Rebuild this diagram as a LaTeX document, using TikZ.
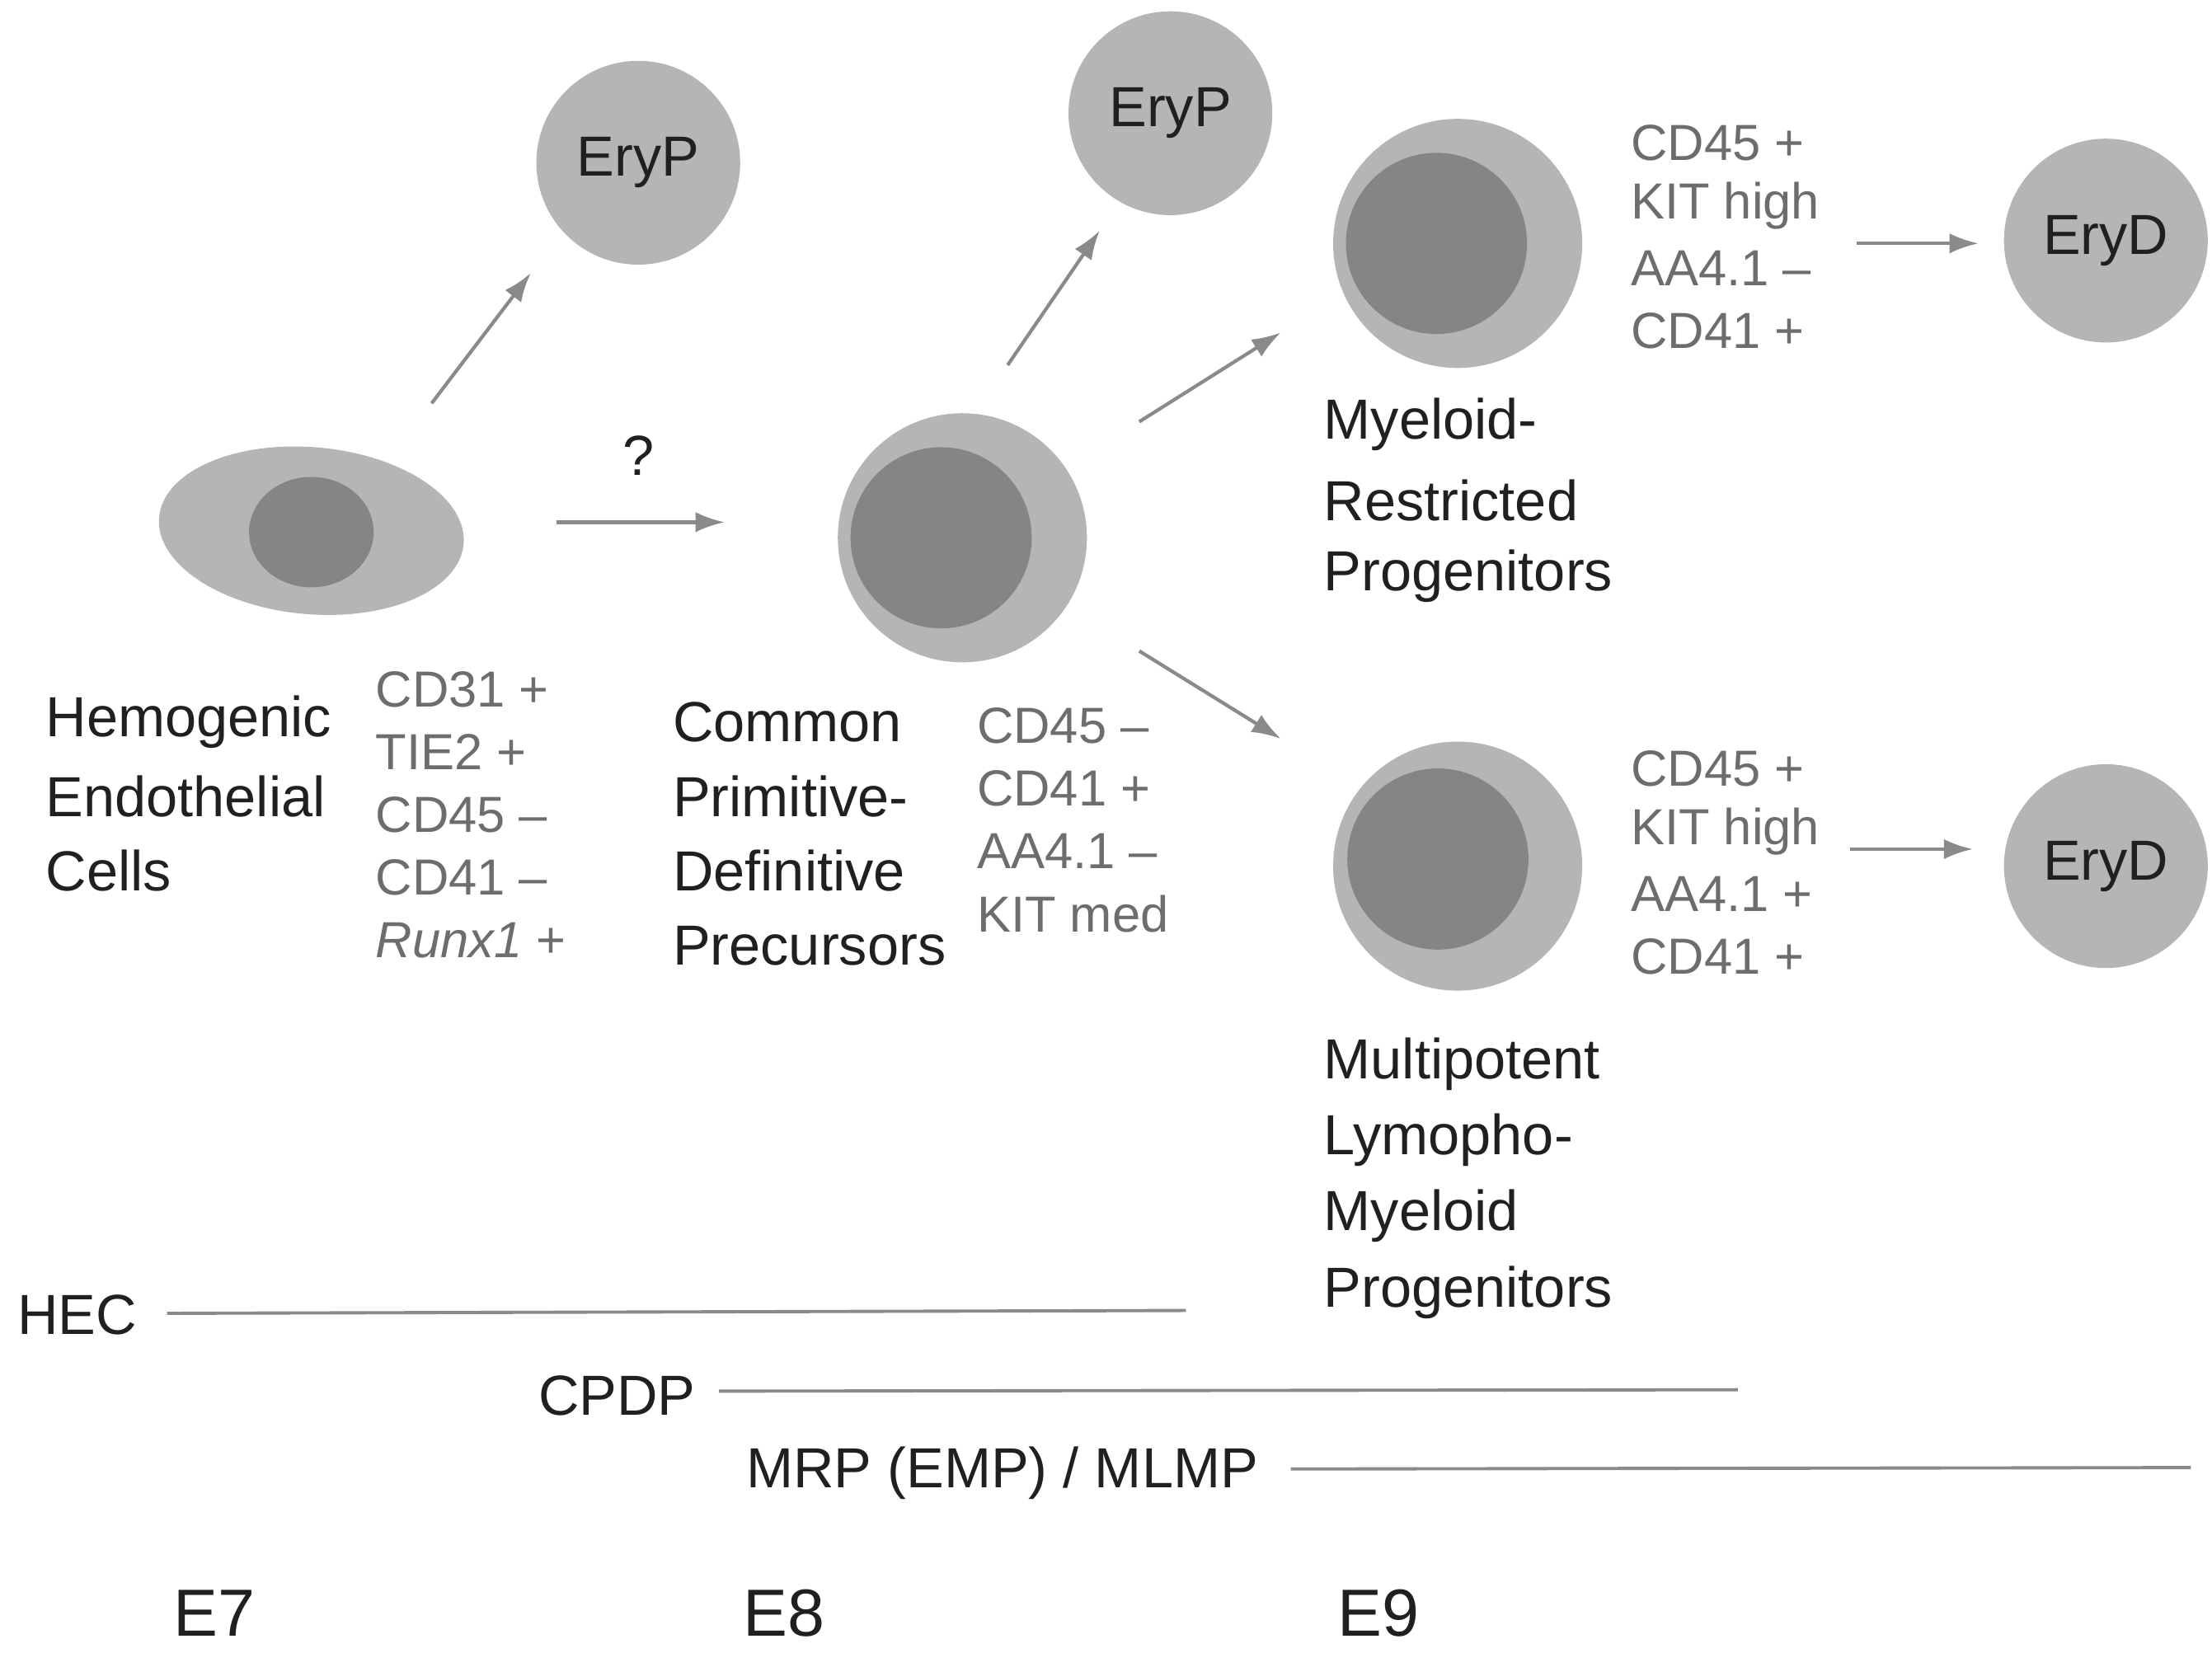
\documentclass[tikz,border=0pt]{standalone}
\usepackage{fontspec}
\usetikzlibrary{arrows.meta}
\setmainfont{Liberation Sans}
\begin{document}
\definecolor{cellL}{HTML}{B5B5B5}
\definecolor{cellD}{HTML}{858585}
\definecolor{txt}{HTML}{231F20}
\definecolor{mk}{HTML}{6D6D6D}
\definecolor{arr}{HTML}{8A8A8A}
\begin{tikzpicture}[x=0.017166cm,y=-0.017166cm,
  lab/.style={font=\fontsize{19.5}{22}\selectfont,text=txt,inner sep=0pt},
  mkr/.style={font=\fontsize{17.5}{20}\selectfont,text=mk,inner sep=0pt},
  big/.style={font=\fontsize{23}{26}\selectfont,text=txt,inner sep=0pt},
  ery/.style={circle,fill=cellL,minimum size=144*0.017166cm,inner sep=0pt,font=\fontsize{19.5}{22}\selectfont,text=txt},
  ar/.style={draw=arr,line width=1.2pt,-{Latex[length=10pt,width=7pt]}},
  tl/.style={draw=arr,line width=1.1pt}]
\useasboundingbox (0,0) rectangle (1563,1168);
% cells
\node[ery] (e1) at (451,115) {EryP};
\node[ery] (e2) at (827,80) {EryP};
\node[ery] (d1) at (1488,170) {EryD};
\node[ery] (d2) at (1488,612) {EryD};
\fill[cellL,rotate around={-5:(220,375)}] (220,375) ellipse [x radius=108,y radius=59];
\fill[cellD] (220,376) ellipse [x radius=44,y radius=39];
\fill[cellL] (680,380) circle (88); \fill[cellD] (665,380) circle (64);
\fill[cellL] (1030,172) circle (88); \fill[cellD] (1015,172) circle (64);
\fill[cellL] (1030,612) circle (88); \fill[cellD] (1016,607) circle (64);
% arrow coordinates
\coordinate (a1s) at (305,285); \coordinate (a1e) at (375,193);
\coordinate (a2s) at (393,369); \coordinate (a2e) at (512,369);
\coordinate (a3s) at (712,258); \coordinate (a3e) at (777,163);
\coordinate (a4s) at (805,298); \coordinate (a4e) at (905,235);
\coordinate (a5s) at (805,460); \coordinate (a5e) at (905,522);
\coordinate (a6s) at (1312,172); \coordinate (a6e) at (1398,172);
\coordinate (a7s) at (1307,600); \coordinate (a7e) at (1394,600);
\foreach \i in {1,...,7} \draw[ar] (a\i s) -- (a\i e);
\node[lab] (q) at (451,322) {?};
% labels
\foreach \t [count=\i] in {Hemogenic,Endothelial,Cells}
  \node[lab,anchor=west] (hec\i) at (32,{510+(\i-1)*52.7}) {\t};
\foreach \t [count=\i] in {CD31 +,TIE2 +,CD45 –,CD41 –,{\textit{Runx1} +}}
  \node[mkr,anchor=west] (hm\i) at (265,{487+(\i-1)*44.3}) {\t};
\foreach \t [count=\i] in {Common,Primitive-,Definitive,Precursors}
  \node[lab,anchor=west] (cp\i) at (475,{510+(\i-1)*52.7}) {\t};
\foreach \t [count=\i] in {CD45 –,CD41 +,AA4.1 –,KIT med}
  \node[mkr,anchor=west] (cm\i) at (690,{513+(\i-1)*44.3}) {\t};
\foreach \t [count=\i] in {Myeloid-,Restricted,Progenitors}
  \node[lab,anchor=west] (mr\i) at (935,{300+(\i-1)*53.5}) {\t};
\foreach \t [count=\i] in {CD45 +,KIT high,AA4.1 –,CD41 +}
  \node[mkr,anchor=west] (mm\i) at (1152,{101+(\i-1)*44.3}) {\t};
\foreach \t [count=\i] in {CD45 +,KIT high,AA4.1 +,CD41 +}
  \node[mkr,anchor=west] (lm\i) at (1152,{543+(\i-1)*44.3}) {\t};
\foreach \t [count=\i] in {Multipotent,Lymopho-,Myeloid,Progenitors}
  \node[lab,anchor=west] (ml\i) at (935,{752+(\i-1)*53.7}) {\t};
% timeline
\node[lab,anchor=west] (t1) at (12,929) {HEC};
\coordinate (t1e) at (838,926);
\draw[tl] (118,928) -- (t1e);
\node[lab,anchor=west] (t2) at (380,986) {CPDP};
\coordinate (t2e) at (1228,982);
\draw[tl] (508,983) -- (t2e);
\node[lab,anchor=west] (t3) at (527,1041) {MRP (EMP) / MLMP};
\coordinate (t3e) at (1548,1037);
\draw[tl] (912,1038) -- (t3e);
\node[big,anchor=west] (E7) at (122,1140) {E7};
\node[big,anchor=west] (E8) at (525,1140) {E8};
\node[big,anchor=west] (E9) at (945,1140) {E9};
\end{tikzpicture}
\end{document}
